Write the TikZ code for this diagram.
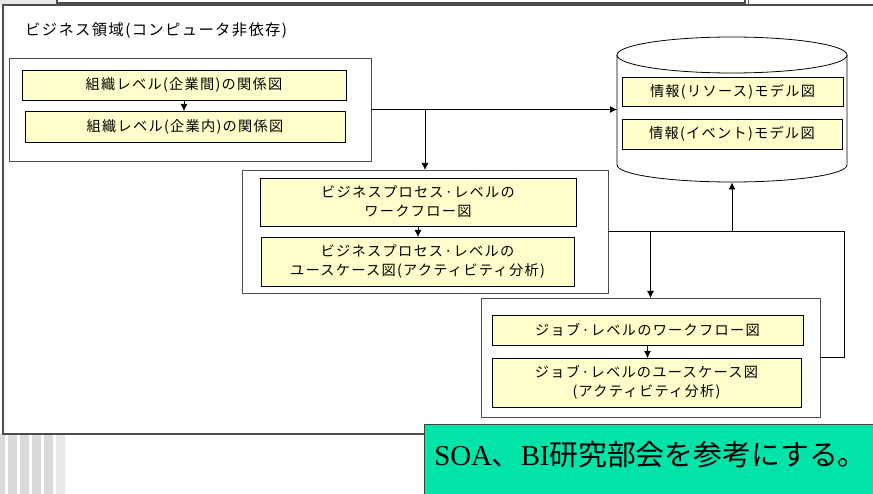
\documentclass[tikz,border=0pt]{standalone}
\usepackage{fontspec}
\setmainfont{Noto Sans CJK JP}
\newfontfamily\jpbox[LetterSpace=9]{Noto Sans CJK JP}
\newfontfamily\jpplain{Noto Sans CJK JP}
\newfontfamily\latinserif{Liberation Serif}
\usetikzlibrary{arrows.meta}
\definecolor{boxyellow}{HTML}{FFFFCC}
\definecolor{notegreen}{HTML}{00E3A9}
\definecolor{noteedge}{HTML}{2E4A3C}
\definecolor{framegray}{HTML}{4D4D4D}
\definecolor{stripegray}{HTML}{DADADA}
\definecolor{stripelight}{HTML}{E8E8E8}
\begin{document}
\begin{tikzpicture}[x=1pt,y=-1pt,
  group/.style={draw=framegray, fill=white, line width=0.9pt, inner sep=0pt, outer sep=0pt},
  item/.style={draw=black, fill=boxyellow, line width=0.7pt, inner sep=0pt, outer sep=0pt,
    align=center, font=\jpbox\fontsize{14.2}{19}\selectfont},
  conn/.style={line width=0.8pt},
  arr/.style={conn, -{Latex[length=7pt,width=7pt]}},
  notebox/.style={draw=noteedge, fill=notegreen, line width=1pt, inner sep=0pt, outer sep=0pt}]
\useasboundingbox (0,0) rectangle (873,494);
% background stripes bottom-left
\fill[stripegray] (0,434) rectangle (5,494);
\fill[stripegray] (8,434) rectangle (17,494);
\fill[stripegray] (20,434) rectangle (29,494);
\fill[stripegray] (32,434) rectangle (41,494);
\fill[stripegray] (44,434) rectangle (53,494);
\fill[stripelight] (56,434) rectangle (65,494);
\fill[stripelight] (0,0) rectangle (57,5);
% outer frame
\draw[framegray, line width=1.2pt, fill=white] (3,5) rectangle (880,434);
% top fragments
\draw[framegray, line width=1.2pt, fill=white] (57,-10) rectangle (745,3);
\draw[framegray, line width=1pt, fill=white] (748,-10) rectangle (880,5);
% title
\node[anchor=west, font=\jpbox\fontsize{15.3}{17}\selectfont, inner sep=0pt] (title) at (25,31) {ビジネス領域(コンピュータ非依存)};
% groups
\node[group, minimum width=362pt, minimum height=103pt] (g1) at (190,109.5) {};
\node[group, minimum width=366pt, minimum height=123pt] (g2) at (425,231.5) {};
\node[group, minimum width=339pt, minimum height=119pt] (g3) at (650.5,357.5) {};
% cylinder
\draw[black, line width=0.8pt, fill=white] (617,55) -- (617,165)
  arc[start angle=180, end angle=360, x radius=115pt, y radius=17pt] -- (847,55)
  arc[start angle=0, end angle=180, x radius=115pt, y radius=18pt] -- cycle;
\draw[black, line width=0.8pt] (617,55) arc[start angle=180, end angle=360, x radius=115pt, y radius=18pt];
\node[inner sep=0pt, outer sep=0pt, minimum width=230pt, minimum height=145pt] (db) at (732,110) {};
% items
\node[item, minimum width=324pt, minimum height=30pt] (a1) at (184,85) {組織レベル(企業間)の関係図};
\node[item, minimum width=320pt, minimum height=31pt] (a2) at (185,126.5) {組織レベル(企業内)の関係図};
\node[item, minimum width=316pt, minimum height=48pt] (b1) at (418,202) {ビジネスプロセス·レベルの\\ワークフロー図};
\node[item, minimum width=313pt, minimum height=49pt] (b2) at (417.5,261.5) {ビジネスプロセス·レベルの\\ユースケース図(アクティビティ分析)};
\node[item, minimum width=311pt, minimum height=30pt] (c1) at (647.5,330) {ジョブ·レベルのワークフロー図};
\node[item, minimum width=309pt, minimum height=49pt] (c2) at (646.5,382.5) {ジョブ·レベルのユースケース図\\(アクティビティ分析)};
\node[item, minimum width=221pt, minimum height=29pt] (d1) at (732.5,91.5) {情報(リソース)モデル図};
\node[item, minimum width=220pt, minimum height=30pt] (d2) at (732,134) {情報(イベント)モデル図};
% inner arrows
\draw[arr] (a1.south) -- (a1.south |- a2.north);
\draw[arr] (b1.south) -- (b1.south |- b2.north);
\draw[arr] (c1.south) -- (c1.south |- c2.north);
% connectors
\draw[arr] (g1.east) -- (db.west |- g1.east);
\draw[arr] (g1.east -| g2.north) -- (g2.north);
\coordinate (rj) at (844,231.5);
\draw[conn] (g2.east) -- (rj) |- (g3.east);
\draw[arr] (g2.east -| db.south) -- (db.south);
\draw[arr] (g2.east -| g3.north) -- (g3.north);
% note
\node[notebox, minimum width=460pt, minimum height=80pt, anchor=north west] (note) at (424,424) {};
\node[inner sep=0pt] (notetext) at (650.5,455) {\fontsize{28.8}{33}\selectfont{\latinserif SOA}{\jpplain 、}{\latinserif BI}{\jpplain 研究部会を参考にする。}};
\end{tikzpicture}
\end{document}
